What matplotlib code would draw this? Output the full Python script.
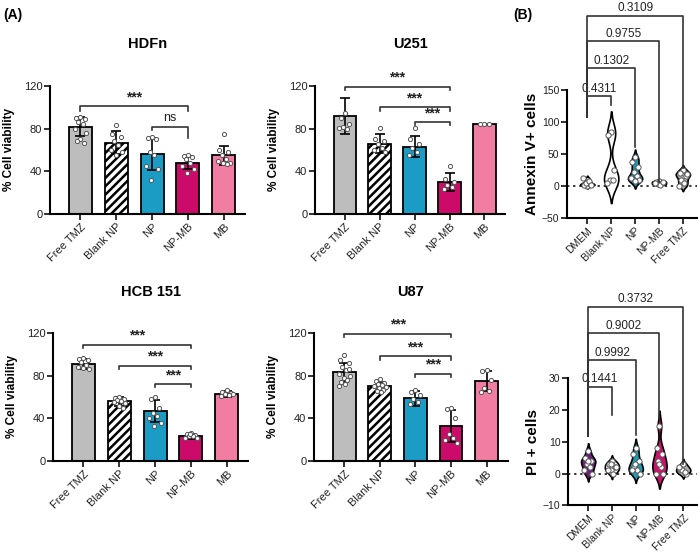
import numpy as np
import matplotlib.pyplot as plt

plt.rcParams['font.family'] = ['Liberation Sans', 'DejaVu Sans']
plt.rcParams['hatch.linewidth'] = 1.8

# ---- dados (A): viabilidade celular ----
grupos_a = ['Free TMZ', 'Blank NP', 'NP', 'NP-MB', 'MB']
cores_a = ['#BDBDBD', 'white', '#1B9CC4', '#CC0A6A', '#F27DA2']

hdfn_media = [82, 67, 56, 48, 55]
hdfn_dp = [9, 11, 15, 6, 9]
hdfn_pts = [[91, 90, 89, 86, 84, 80, 76, 70, 67, 68],
            [83, 75, 72, 68, 65, 60, 58, 55],
            [72, 71, 70, 58, 55, 45, 42, 32],
            [55, 54, 53, 52, 48, 45, 42, 38],
            [75, 60, 58, 55, 52, 50, 48, 48, 47]]

u251_media = [92, 66, 63, 30, 84]
u251_dp = [17, 9, 10, 8, 0.4]
u251_pts = [[95, 90, 84, 82, 80, 81],
            [81, 70, 68, 66, 62, 60, 58],
            [81, 70, 66, 62, 58, 55],
            [45, 33, 30, 27, 25, 23],
            [84.5, 84, 84.3]]

hcb_media = [91, 56, 47, 23, 63]
hcb_dp = [5, 4, 10, 2, 3]
hcb_pts = [[97, 96, 95, 93, 90, 88, 86, 87],
           [60, 59, 58, 57, 56, 55, 54, 52, 50],
           [60, 58, 50, 45, 42, 40, 36, 33],
           [26, 25, 24, 23, 23, 22, 22, 25],
           [67, 65, 64, 63, 62, 61, 63]]

u87_media = [83, 70, 59, 33, 75]
u87_dp = [9, 4, 7, 15, 9]
u87_pts = [[99, 95, 92, 88, 85, 82, 80, 78, 76, 74, 72, 70, 86],
           [77, 75, 73, 72, 71, 70, 69, 68, 67, 66, 65],
           [67, 65, 62, 58, 55, 53],
           [50, 49, 40, 25, 22, 20, 17],
           [85, 84, 76, 68, 66, 65]]

# colchetes: (i, j, nivel, perna_i, perna_j, texto)
hdfn_barras = [(0, 3, 101, 4, 4, '***'), (2, 3, 82, 3, 11, 'ns')]
u251_barras = [(0, 3, 119, 3, 3, '***'), (1, 3, 100, 3, 3, '***'), (2, 3, 86, 3, 3, '***')]
hcb_barras = [(0, 3, 109, 3, 3, '***'), (1, 3, 89, 3, 3, '***'), (2, 3, 72, 3, 3, '***')]
u87_barras = [(0, 3, 119, 3, 3, '***'), (1, 3, 98, 3, 3, '***'), (2, 3, 82, 3, 3, '***')]

# ---- dados (B): violinos ----
grupos_b = ['DMEM', 'Blank NP', 'NP', 'NP-MB', 'Free TMZ']

anexina = [[0, 2, 3, 5, 8, 12, 2],
           [85, 80, 25, 10, 10, 5],
           [45, 38, 30, 22, 15, 12, 10, 8],
           [8, 6, 4, 3, 2, 5, 7],
           [25, 20, 15, 10, 5, 0, 18]]
cores_anexina = ['white', 'white', '#1B9CB4', '#8B1A2E', '#B0B0B0']
p_anexina = ['0.4311', '0.1302', '0.9755', '0.3109']
niv_anexina = [140, 184, 226, 266]
pernas_anexina = [126, 61, 6, 28]

pi_cel = [[7, 5, 4, 3, 2, 1, 0, 4],
          [4, 3, 2, 1, 0, 1, 2, 3],
          [8, 6, 4, 2, 1, 1, 0, 3],
          [15, 8, 6, 4, 2, 0, 0, 3],
          [3, 1.5, 0, 1, 0.5, 2]]
cores_pi = ['#6B1F7B', 'white', '#1B9CB4', '#D0106E', '#B0B0B0']
p_pi = ['0.1441', '0.9992', '0.9002', '0.3732']
niv_pi = [27.2, 35.6, 44, 52.3]
pernas_pi = [18.5, 12, 17, 3]

# deslocamento horizontal dos pontos (espalhamento)
jitter = [0, -0.12, 0.12, -0.06, 0.06, -0.16, 0.16, -0.02, 0.09, -0.09, 0.03, -0.14, 0.14]


def estilo(ax, tam=8):
    for s in ['top', 'right']:
        ax.spines[s].set_visible(False)
    for s in ['left', 'bottom']:
        ax.spines[s].set_linewidth(1.5)
    ax.tick_params(width=1.3, length=4, labelsize=tam, pad=1.5, colors='#222222')


def painel_barras(ax, titulo, media, dp, pts, barras):
    x = np.arange(len(grupos_a))
    for i in range(len(x)):
        ax.bar(x[i], media[i], width=0.64, color=cores_a[i], edgecolor='black',
               linewidth=1.3, hatch='////' if i == 1 else None, zorder=2)
        ax.errorbar(x[i], media[i], yerr=dp[i], color='black', capsize=3.5,
                    elinewidth=1.2, capthick=1.2, zorder=4)
        xs = x[i] + np.array(jitter[:len(pts[i])])
        ax.scatter(xs, pts[i], s=9, facecolor='white', edgecolor='#555555',
                   linewidth=0.7, zorder=5)
    for i, j, nv, pi_, pj, txt in barras:
        ax.plot([x[i], x[i], x[j], x[j]], [nv - pi_, nv, nv, nv - pj],
                color='#333333', lw=1.2, clip_on=False, zorder=6)
        ax.text((x[i] + x[j]) / 2, nv + 2, txt,
                ha='center', va='bottom', fontsize=9 if txt == 'ns' else 10,
                fontweight='normal' if txt == 'ns' else 'bold', color='#222222')
    ax.set_ylim(0, 120)
    ax.set_yticks([0, 40, 80, 120])
    ax.set_xlim(-0.85, 4.6)
    ax.set_xticks(x)
    ax.set_xticklabels(grupos_a, rotation=45, ha='right', rotation_mode='anchor')
    ax.set_ylabel('% Cell viability', fontsize=8.5, fontweight='bold', labelpad=6)
    ax.set_title(titulo, fontsize=10.5, fontweight='bold', pad=27)
    estilo(ax)


def kde(dados, grade, bw):
    d = np.asarray(dados, float)
    z = (grade[:, None] - d[None, :]) / bw
    return np.exp(-0.5 * z ** 2).sum(axis=1)


def painel_violino(ax, dados, cores, pvals, niveis, pernas, ylim, yticks, rotulo, perna0):
    x = np.arange(len(grupos_b))
    for i, d in enumerate(dados):
        d = np.asarray(d, float)
        bw = 0.6 * d.std() * len(d) ** (-0.2) + 0.3
        g = np.linspace(d.min() - 2.2 * bw, d.max() + 2.2 * bw, 200)
        dens = kde(d, g, bw)
        w = dens / dens.max() * 0.3
        ax.fill_betweenx(g, x[i] - w, x[i] + w, facecolor=cores[i], edgecolor='black',
                         linewidth=1.2, zorder=3)
        xs = x[i] + np.array(jitter[:len(d)])
        ax.scatter(xs, d, s=14, facecolor='white', edgecolor='#555555',
                   linewidth=0.7, zorder=5)
    ax.axhline(0, color='black', ls=(0, (1.5, 2.5)), lw=1.1, zorder=2)
    for k in range(4):
        j = k + 1
        ax.plot([x[0], x[0], x[j], x[j]], [perna0, niveis[k], niveis[k], pernas[k]],
                color='#333333', lw=1.2, clip_on=False, zorder=6)
        ax.text((x[0] + x[j]) / 2, niveis[k] + (ylim[1] - ylim[0]) * 0.012, pvals[k],
                ha='center', va='bottom', fontsize=8.5, color='#222222')
    ax.set_ylim(*ylim)
    ax.set_yticks(yticks)
    ax.set_xlim(-0.85, 4.6)
    ax.set_xticks(x)
    ax.set_xticklabels(grupos_b, rotation=45, ha='right', rotation_mode='anchor')
    ax.set_ylabel(rotulo, fontsize=11, fontweight='bold', labelpad=2)
    estilo(ax, 7.5)


fig = plt.figure(figsize=(7, 5.54), dpi=100)

ax1 = fig.add_axes([0.0714, 0.6137, 0.279, 0.2311])
painel_barras(ax1, 'HDFn', hdfn_media, hdfn_dp, hdfn_pts, hdfn_barras)
ax2 = fig.add_axes([0.45, 0.6137, 0.272, 0.2311])
painel_barras(ax2, 'U251', u251_media, u251_dp, u251_pts, u251_barras)
ax3 = fig.add_axes([0.0757, 0.1679, 0.279, 0.2310])
painel_barras(ax3, 'HCB 151', hcb_media, hcb_dp, hcb_pts, hcb_barras)
ax4 = fig.add_axes([0.4486, 0.1679, 0.277, 0.2310])
painel_barras(ax4, 'U87', u87_media, u87_dp, u87_pts, u87_barras)

ax5 = fig.add_axes([0.81, 0.6065, 0.186, 0.231])
painel_violino(ax5, anexina, cores_anexina, p_anexina, niv_anexina, pernas_anexina,
               (-50, 150), [-50, 0, 50, 100, 150], 'Annexin V+ cells', 108)
ax6 = fig.add_axes([0.8114, 0.0878, 0.185, 0.2299])
painel_violino(ax6, pi_cel, cores_pi, p_pi, niv_pi, pernas_pi,
               (-10, 30), [-10, 0, 10, 20, 30], 'PI + cells', 11.7)

fig.text(0.005, 0.985, '(A)', fontsize=10, fontweight='bold', va='top')
fig.text(0.733, 0.985, '(B)', fontsize=10, fontweight='bold', va='top')

fig.savefig('out.png', dpi=100)
